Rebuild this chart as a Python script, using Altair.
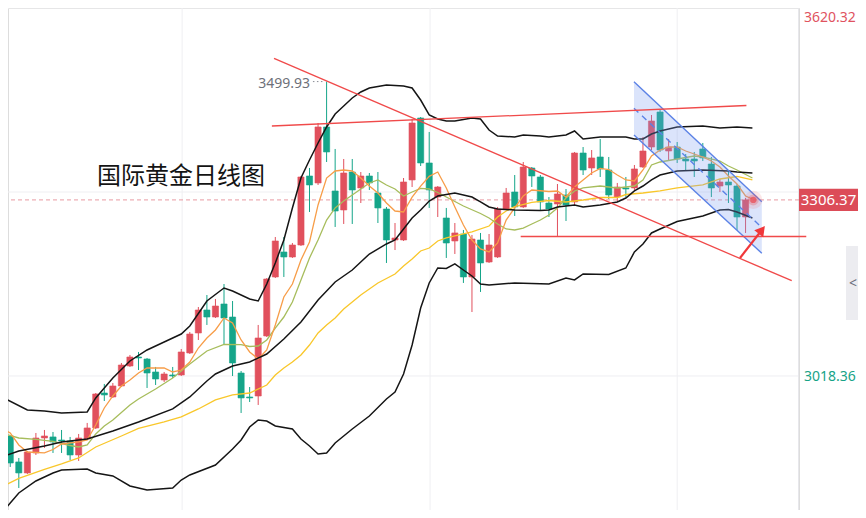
import altair as alt
import pandas as pd

# ---------------- candle data (daily, oldest -> newest) ----------------
opens = [2916.9, 2920.2, 2877.7, 2859.7, 2892.4, 2916.9, 2918.6, 2913.6, 2912.0, 2889.1,
         2915.3, 2933.3, 2990.5, 2984.0, 3002.0, 3034.7, 3049.4, 3046.1, 3024.9, 3011.8,
         3020.0, 3020.0, 3056.0, 3088.7, 3126.3, 3114.8, 3136.1, 3114.8, 3023.2, 2984.0,
         2985.6, 3083.8, 3180.3, 3221.2, 3213.0, 3232.6, 3345.5, 3334.1, 3425.7, 3321.0,
         3289.9, 3352.0, 3325.9, 3345.5, 3317.7, 3291.5, 3240.8, 3240.8, 3339.0, 3440.4,
         3366.8, 3311.1, 3276.8, 3239.2, 3250.6, 3180.3, 3240.8, 3204.8, 3213.0, 3291.5,
         3319.3, 3294.8, 3358.6, 3343.9, 3301.3, 3299.7, 3314.4, 3303.0, 3383.1, 3358.6,
         3376.6, 3355.3, 3311.1, 3325.9, 3325.9, 3360.2, 3392.9, 3450.2, 3386.4, 3392.9,
         3373.3, 3373.3, 3389.7, 3365.1, 3329.1, 3335.7, 3329.1, 3278.4]
highs = [2933.3, 2921.8, 2884.2, 2895.7, 2925.1, 2930.0, 2926.7, 2930.0, 2918.6, 2923.5,
         2941.5, 2990.5, 3005.3, 3006.9, 3039.6, 3052.7, 3057.6, 3047.8, 3033.1, 3024.9,
         3033.1, 3062.5, 3090.3, 3131.2, 3150.8, 3144.3, 3168.8, 3141.0, 3026.5, 3000.3,
         3101.8, 3178.6, 3245.7, 3245.7, 3235.9, 3345.5, 3358.6, 3432.2, 3499.93, 3389.7,
         3373.3, 3373.3, 3352.0, 3350.4, 3352.0, 3294.8, 3268.6, 3342.2, 3438.7, 3442.0,
         3417.5, 3329.1, 3293.2, 3268.6, 3257.2, 3249.0, 3252.3, 3250.6, 3294.8, 3325.9,
         3347.1, 3368.4, 3360.2, 3347.1, 3311.1, 3332.4, 3324.2, 3384.8, 3392.9, 3388.0,
         3406.0, 3376.6, 3334.1, 3343.9, 3363.5, 3409.3, 3445.3, 3453.5, 3406.0, 3401.1,
         3381.5, 3384.8, 3399.5, 3376.6, 3340.6, 3355.3, 3332.4, 3309.5]
lows = [2895.7, 2869.5, 2835.1, 2858.0, 2889.1, 2900.6, 2892.4, 2892.4, 2880.9, 2879.3,
        2913.6, 2931.6, 2977.4, 2982.4, 3000.3, 3033.1, 3028.1, 2998.7, 3003.6, 3008.5,
        3015.1, 3018.3, 3054.3, 3077.2, 3101.8, 3113.2, 3069.0, 3018.3, 2957.8, 2975.8,
        2970.9, 3082.1, 3178.6, 3180.3, 3211.4, 3231.0, 3286.6, 3330.8, 3368.4, 3262.1,
        3267.0, 3267.0, 3301.3, 3322.6, 3268.6, 3203.2, 3224.4, 3239.2, 3327.5, 3361.8,
        3293.2, 3278.4, 3211.4, 3217.9, 3170.5, 3123.0, 3155.8, 3203.2, 3211.4, 3289.9,
        3280.1, 3293.2, 3327.5, 3289.9, 3278.4, 3247.4, 3271.9, 3296.4, 3347.1, 3347.1,
        3343.9, 3307.9, 3303.0, 3311.1, 3322.6, 3358.6, 3388.0, 3384.8, 3371.7, 3366.8,
        3355.3, 3343.9, 3370.0, 3311.1, 3319.3, 3301.3, 3257.2, 3252.3]
closes = [2918.6, 2876.0, 2859.7, 2894.0, 2916.9, 2920.2, 2910.4, 2912.0, 2889.1, 2916.9,
          2933.3, 2988.9, 2987.3, 3002.0, 3036.3, 3049.4, 3047.8, 3023.2, 3013.4, 3021.6,
          3018.3, 3057.6, 3087.0, 3126.3, 3114.8, 3132.8, 3113.2, 3039.6, 2982.4, 2982.4,
          3080.5, 3177.0, 3239.2, 3213.0, 3232.6, 3343.9, 3330.8, 3425.7, 3384.8, 3288.2,
          3350.4, 3322.6, 3345.5, 3334.1, 3293.2, 3240.8, 3244.1, 3335.7, 3432.2, 3366.8,
          3322.6, 3327.5, 3235.9, 3252.3, 3180.3, 3242.4, 3203.2, 3232.6, 3291.5, 3317.7,
          3294.8, 3360.2, 3345.5, 3303.0, 3291.5, 3316.1, 3298.1, 3383.1, 3355.3, 3375.0,
          3357.0, 3314.4, 3327.5, 3324.2, 3357.0, 3386.4, 3435.5, 3388.0, 3392.9, 3373.3,
          3370.0, 3370.0, 3375.0, 3325.9, 3335.7, 3330.8, 3278.4, 3306.37]

# ---------------- indicator lines ----------------
bb_up_x = [0, 3, 5, 7, 10, 11, 13, 15, 17, 19, 21, 22, 24, 26, 27, 29, 30, 31, 32, 33,
           34, 35, 36, 37, 38, 39, 40, 41, 42, 43, 45, 47, 48, 49, 50, 51, 52, 53, 55, 56,
           57, 58, 60, 61, 63, 64, 66, 67, 68, 70, 73, 74, 75, 76, 77, 79, 82, 84, 86, 87.8]
bb_up_y = [2984.0, 2962.7, 2961.1, 2957.8, 2959.4, 2982.4, 3015.1, 3042.9, 3060.9, 3074.0,
           3087.0, 3100.1, 3141.0, 3162.3, 3157.4, 3144.3, 3141.0, 3168.8, 3203.2, 3240.8,
           3293.2, 3342.2, 3371.7, 3399.5, 3425.7, 3446.9, 3460.0, 3473.1, 3482.9, 3489.5,
           3494.4, 3492.7, 3489.5, 3469.8, 3445.3, 3438.7, 3435.5, 3435.5, 3440.4, 3438.7,
           3420.7, 3410.9, 3409.3, 3412.6, 3410.9, 3409.3, 3412.6, 3419.1, 3406.0, 3409.3,
           3409.3, 3406.0, 3406.0, 3414.2, 3419.1, 3425.7, 3427.3, 3424.0, 3425.7, 3424.0]
bb_mid_x = [0, 2, 5, 7, 10, 13, 16, 20, 22, 24, 25, 27, 29, 31, 33, 35, 37, 39, 41, 43,
            45, 46, 47, 48, 49, 50, 51, 53, 55, 56, 57, 58, 60, 63, 64, 65, 67, 68, 70, 72,
            73, 74, 75, 76, 77, 79, 82, 85, 86, 87.8]
bb_mid_y = [2885.8, 2895.7, 2903.8, 2910.4, 2915.3, 2928.4, 2943.1, 2964.4, 2984.0, 3010.2,
            3021.6, 3034.7, 3041.2, 3054.3, 3078.9, 3106.7, 3142.7, 3172.1, 3191.7, 3217.9,
            3234.3, 3240.8, 3258.8, 3276.8, 3289.9, 3304.6, 3312.8, 3317.7, 3311.1, 3303.0,
            3294.8, 3291.5, 3289.9, 3289.1, 3289.9, 3294.8, 3298.1, 3294.8, 3298.1, 3303.0,
            3309.5, 3321.0, 3329.1, 3339.0, 3347.1, 3353.7, 3355.3, 3353.7, 3352.0, 3350.4]
bb_lo_x = [0, 1, 2, 4, 6, 7, 10, 11, 13, 15, 17, 20, 21, 22, 25, 27, 28, 29, 30, 31,
           32, 34, 35, 36, 37, 38, 39, 41, 43, 45, 46, 47, 48, 49, 50, 51, 52, 53, 54, 55,
           56, 57, 60, 64, 66, 67, 68, 71, 73, 74, 75, 76, 77, 79, 82, 84, 85, 86, 87.8]
bb_lo_y = [2794.2, 2810.6, 2827.0, 2846.6, 2859.7, 2864.6, 2866.2, 2859.7, 2854.8, 2838.4,
           2831.9, 2835.1, 2848.2, 2856.4, 2872.7, 2898.9, 2913.6, 2934.9, 2946.4, 2944.7,
           2936.6, 2931.6, 2915.3, 2903.8, 2890.7, 2892.4, 2908.8, 2931.6, 2952.9, 2980.7,
           2992.2, 3021.6, 3069.0, 3129.6, 3170.5, 3195.0, 3194.2, 3201.6, 3191.7, 3181.9,
           3168.8, 3167.2, 3170.5, 3168.8, 3178.6, 3175.4, 3185.2, 3184.4, 3195.0, 3221.2,
           3234.3, 3252.3, 3258.8, 3271.1, 3280.1, 3289.9, 3290.7, 3286.6, 3276.8]
ma5_x = [0, 1, 2, 3, 5, 6, 7, 9, 10, 11, 12, 13, 14, 15, 16, 17, 19, 20, 21, 22,
         23, 24, 25, 26, 27, 28, 29, 30, 31, 32, 33, 34, 35, 36, 37, 38, 39, 40, 41, 42,
         43, 44, 45, 46, 47, 48, 49, 50, 51, 52, 53, 54, 55, 56, 57, 58, 59, 60, 61, 62,
         64, 65, 66, 67, 68, 69, 70, 71, 72, 73, 74, 75, 76, 77, 78, 79, 80, 82, 83, 84,
         85, 86, 87, 87.8]
ma5_y = [2933.3, 2925.1, 2905.5, 2894.0, 2892.4, 2898.1, 2907.1, 2910.4, 2913.6, 2938.2,
         2966.0, 2985.6, 3002.0, 3011.8, 3023.2, 3031.4, 3031.4, 3024.9, 3028.1, 3041.2,
         3064.1, 3080.5, 3093.6, 3113.2, 3105.0, 3077.2, 3057.6, 3046.1, 3060.9, 3101.8,
         3147.6, 3168.8, 3208.1, 3237.5, 3298.1, 3342.2, 3353.7, 3355.3, 3353.7, 3342.2,
         3329.1, 3317.7, 3301.3, 3288.2, 3286.6, 3311.0, 3329.0, 3345.0, 3352.0, 3325.9,
         3294.8, 3265.3, 3240.8, 3226.1, 3221.2, 3235.9, 3273.5, 3293.2, 3312.8, 3322.6,
         3320.1, 3320.9, 3311.1, 3327.5, 3339.0, 3350.4, 3357.8, 3356.1, 3347.1, 3339.0,
         3337.3, 3355.3, 3378.2, 3388.0, 3392.9, 3392.9, 3386.4, 3376.6, 3370.0, 3360.2,
         3345.5, 3332.4, 3312.8, 3307.9]
ma10_x = [0, 2, 4, 6, 8, 9, 10, 11, 12, 13, 15, 16, 18, 20, 22, 24, 26, 28, 29, 30,
          31, 32, 33, 34, 35, 36, 37, 38, 39, 40, 41, 42, 43, 44, 45, 46, 47, 48, 49, 50,
          51, 52, 54, 56, 57, 58, 59, 60, 61, 62, 63, 64, 65, 66, 67, 68, 70, 72, 73, 74,
          75, 76, 77, 79, 81, 82, 84, 85, 86, 87.8]
ma10_y = [2925.1, 2916.9, 2914.5, 2911.2, 2904.6, 2902.2, 2905.5, 2923.5, 2936.5, 2946.4,
          2970.9, 2980.7, 2997.1, 3015.1, 3038.0, 3059.2, 3069.9, 3069.5, 3066.6, 3067.4,
          3077.2, 3096.8, 3114.8, 3139.4, 3175.4, 3211.4, 3240.8, 3273.5, 3293.2, 3304.6,
          3314.4, 3324.2, 3334.1, 3339.0, 3330.8, 3324.2, 3312.8, 3319.3, 3325.1, 3324.2,
          3318.5, 3311.1, 3296.4, 3284.2, 3276.8, 3267.0, 3258.8, 3257.2, 3260.4, 3267.0,
          3273.5, 3281.7, 3293.2, 3309.5, 3321.0, 3325.9, 3329.1, 3325.9, 3327.5, 3329.1,
          3339.0, 3363.5, 3368.4, 3373.3, 3378.2, 3376.6, 3370.0, 3361.8, 3355.3, 3342.2]
ma30_x = [0, 2, 5, 7, 9, 11, 14, 16, 19, 21, 23, 25, 27, 29, 31, 32, 33, 34, 35, 36,
          37, 38, 39, 40, 42, 44, 46, 47, 48, 49, 50, 51, 52, 53, 55, 57, 58, 59, 60, 62,
          64, 66, 68, 70, 72, 73, 75, 77, 79, 82, 84, 86, 87.8]
ma30_y = [2836.8, 2850.7, 2865.4, 2874.4, 2884.2, 2902.2, 2920.2, 2932.5, 2943.1, 2951.3,
          2964.4, 2979.1, 2987.3, 2990.5, 3003.6, 3020.0, 3031.4, 3041.2, 3052.7, 3069.0,
          3088.7, 3101.8, 3113.2, 3127.9, 3150.8, 3170.5, 3185.2, 3198.3, 3209.7, 3222.8,
          3227.7, 3239.2, 3244.1, 3247.4, 3253.9, 3263.7, 3278.4, 3288.2, 3295.6, 3302.2,
          3305.4, 3303.0, 3306.2, 3310.3, 3310.3, 3315.2, 3317.7, 3321.0, 3325.9, 3330.8,
          3340.6, 3344.7, 3339.0]

# ---------------- drawn annotations ----------------
desc_x, desc_y = [31.85, 92.4], [3538.0, 3174.2]
res_x, res_y = [31.6, 87.1], [3427.3, 3460.8]
sup_x, sup_y = [60.7, 94.1], [3246.5, 3246.5]
chan_x = [73.95, 88.9]
chan_top = [3499.8, 3303.5]
chan_bot = [3412.6, 3219.1]
chan_mid = [3456.2, 3261.3]
arrow_x, arrow_y = [86.35, 88.9], [3211.4, 3257.2]
last_price = 3306.37
high_price = 3499.93
top_label, bottom_label, mid_grid = 3620.32, 3018.36, 3319.3
vgrid_x = [21.1, 50.1, 79.0]

RED, GREEN = "#e1505d", "#15a589"
X = alt.Scale(domain=[0.737, 93.25], nice=False, zero=False)
Y = alt.Scale(domain=[2799.1, 3620.32], nice=False, zero=False)


def xe(f):
    return alt.X(f, type="quantitative", scale=X, axis=None)


def ye(f):
    return alt.Y(f, type="quantitative", scale=Y, axis=None)


candles = pd.DataFrame({"i": range(len(opens)), "o": opens, "h": highs, "l": lows, "c": closes})
candles["col"] = [RED if c >= o else GREEN for o, c in zip(opens, closes)]


def ldf(xs, ys, name):
    return pd.DataFrame({"x": xs, "p": ys, "name": name})


# grid
hgrid = alt.Chart(pd.DataFrame({"p": [top_label, mid_grid, bottom_label]})).mark_rule(
    color="#efeff2", strokeWidth=1, clip=True).encode(y=ye("p"))
vgrid = alt.Chart(pd.DataFrame({"x": vgrid_x})).mark_rule(
    color="#efeff2", strokeWidth=1, clip=True).encode(x=xe("x"))
edge = alt.Chart(pd.DataFrame({"x": [93.2]})).mark_rule(
    color="#e6e6ea", strokeWidth=1, clip=True).encode(x=xe("x"))

cur_line = alt.Chart(pd.DataFrame({"p": [last_price]})).mark_rule(
    color="#e89aa2", strokeWidth=1, strokeDash=[4, 3], clip=True).encode(y=ye("p"))

wick = alt.Chart(candles).mark_rule(strokeWidth=1, clip=True).encode(
    x=xe("i"), y=ye("l"), y2="h:Q", color=alt.Color("col:N", scale=None))
body = alt.Chart(candles).transform_calculate(
    x0="datum.i - 0.36", x1="datum.i + 0.36").mark_rect(strokeWidth=0.6, clip=True).encode(
    x=xe("x0"), x2="x1:Q", y=ye("o"), y2="c:Q",
    color=alt.Color("col:N", scale=None), stroke=alt.Color("col:N", scale=None))

bb = pd.concat([ldf(bb_up_x, bb_up_y, "up"), ldf(bb_mid_x, bb_mid_y, "mid"), ldf(bb_lo_x, bb_lo_y, "lo")])
bb_layer = alt.Chart(bb).mark_line(color="#151515", strokeWidth=1.5, clip=True).encode(
    x=xe("x"), y=ye("p"), detail="name:N")

ma = pd.concat([ldf(ma30_x, ma30_y, "MA30"), ldf(ma10_x, ma10_y, "MA10"), ldf(ma5_x, ma5_y, "MA5")])
ma_layer = alt.Chart(ma).mark_line(strokeWidth=1.3, clip=True).encode(
    x=xe("x"), y=ye("p"),
    color=alt.Color("name:N", legend=None,
                    scale=alt.Scale(domain=["MA5", "MA10", "MA30"],
                                    range=["#f79d48", "#a7bd5c", "#f9c72a"])))

trend = pd.concat([ldf(desc_x, desc_y, "desc"), ldf(res_x, res_y, "res")])
trend_layer = alt.Chart(trend).mark_line(color="#f04a4a", strokeWidth=1.3, clip=True).encode(
    x=xe("x"), y=ye("p"), detail="name:N")
sup_layer = alt.Chart(ldf(sup_x, sup_y, "sup")).mark_line(
    color="#f04a4a", strokeWidth=1.3, clip=False).encode(x=xe("x"), y=ye("p"))

chan = pd.DataFrame({"x": chan_x, "top": chan_top, "bot": chan_bot})
chan_fill = alt.Chart(chan).mark_area(color="#7f9ff0", opacity=0.28, clip=True).encode(
    x=xe("x"), y=ye("top"), y2="bot:Q")
chan_lines = alt.Chart(pd.concat([ldf(chan_x, chan_top, "t"), ldf(chan_x, chan_bot, "b")])).mark_line(
    color="#5b82e6", strokeWidth=1.4, clip=True).encode(x=xe("x"), y=ye("p"), detail="name:N")
chan_dash = alt.Chart(ldf(chan_x, chan_mid, "m")).mark_line(
    color="#5b82e6", strokeWidth=1.4, strokeDash=[6, 5], clip=True).encode(x=xe("x"), y=ye("p"))

arrow_shaft = alt.Chart(ldf(arrow_x, arrow_y, "a")).mark_line(
    color="#f0373a", strokeWidth=2.2, clip=True).encode(x=xe("x"), y=ye("p"))
arrow_head = alt.Chart(pd.DataFrame({"x": [arrow_x[1]], "p": [arrow_y[1]]})).mark_point(
    shape="triangle-up", angle=38, size=130, filled=True, opacity=1, color="#f0373a").encode(
    x=xe("x"), y=ye("p"))

dot_df = pd.DataFrame({"x": [87.9], "p": [last_price]})
glow1 = alt.Chart(dot_df).mark_circle(color="#e8555f", size=330, opacity=0.15).encode(x=xe("x"), y=ye("p"))
glow2 = alt.Chart(dot_df).mark_circle(color="#e8555f", size=120, opacity=0.3).encode(x=xe("x"), y=ye("p"))
glow3 = alt.Chart(dot_df).mark_circle(color="#e8555f", size=40, opacity=0.8).encode(x=xe("x"), y=ye("p"))

title = alt.Chart(pd.DataFrame({"x": [11.15], "p": [3343.9], "t": ["国际黄金日线图"]})).mark_text(
    align="left", baseline="middle", fontSize=24, font="Noto Sans CJK SC", color="#141414").encode(
    x=xe("x"), y=ye("p"), text="t:N")
hi_label = alt.Chart(pd.DataFrame({"x": [36.06], "p": [high_price], "t": [f"{high_price:.2f}"]})).mark_text(
    align="right", baseline="middle", fontSize=14, dy=2, font="Noto Sans", color="#6e717a").encode(
    x=xe("x"), y=ye("p"), text="t:N")
hi_lead = alt.Chart(ldf([36.4, 37.7], [high_price, high_price], "l")).mark_line(
    color="#8a8d95", strokeWidth=1, strokeDash=[1.5, 2.5], clip=True).encode(x=xe("x"), y=ye("p"))

# current-price tag on the right (half height of the tag is 11.2 px = 18.3 price units)
price_box = alt.Chart(pd.DataFrame({"p": [last_price]})).transform_calculate(
    top="datum.p + 18.3", bot="datum.p - 18.3").mark_rect(color="#dc4c58").encode(
    x=alt.value(791), x2=alt.value(850), y=ye("top"), y2="bot:Q")
price_txt = alt.Chart(pd.DataFrame({"p": [last_price], "t": [f"{last_price:.2f}"]})).mark_text(
    align="center", baseline="middle", fontSize=15, font="Noto Sans", color="white").encode(
    x=alt.value(820.5), y=ye("p"), text="t:N")
top_txt = alt.Chart(pd.DataFrame({"p": [top_label], "t": [f"{top_label:.2f}"]})).mark_text(
    align="left", baseline="middle", fontSize=14, dy=10, font="Noto Sans", color="#e0535f").encode(
    x=alt.value(796), y=ye("p"), text="t:N")
bot_txt = alt.Chart(pd.DataFrame({"p": [bottom_label], "t": [f"{bottom_label:.2f}"]})).mark_text(
    align="left", baseline="middle", fontSize=14, dy=1, font="Noto Sans", color="#17a387").encode(
    x=alt.value(796), y=ye("p"), text="t:N")

dummy = pd.DataFrame({"a": [0]})
tab = alt.Chart(dummy).mark_rect(color="#ececf0").encode(
    x=alt.value(838), x2=alt.value(850), y=alt.value(238), y2=alt.value(312))
tab_txt = alt.Chart(dummy).mark_text(text="<", fontSize=14, color="#6b6f7a", font="Noto Sans").encode(
    x=alt.value(845), y=alt.value(276))

chart = alt.layer(
    hgrid, vgrid, edge, cur_line, wick, body, ma_layer, bb_layer,
    chan_fill, chan_lines, chan_dash, trend_layer, sup_layer, arrow_shaft, arrow_head,
    glow1, glow2, glow3, title, hi_label, hi_lead,
    price_box, price_txt, top_txt, bot_txt, tab, tab_txt,
).properties(width=791, height=502, padding=0).configure_view(stroke=None).configure(
    background="white")

chart.save("out.html", embed_options={"renderer": "svg", "actions": False})
